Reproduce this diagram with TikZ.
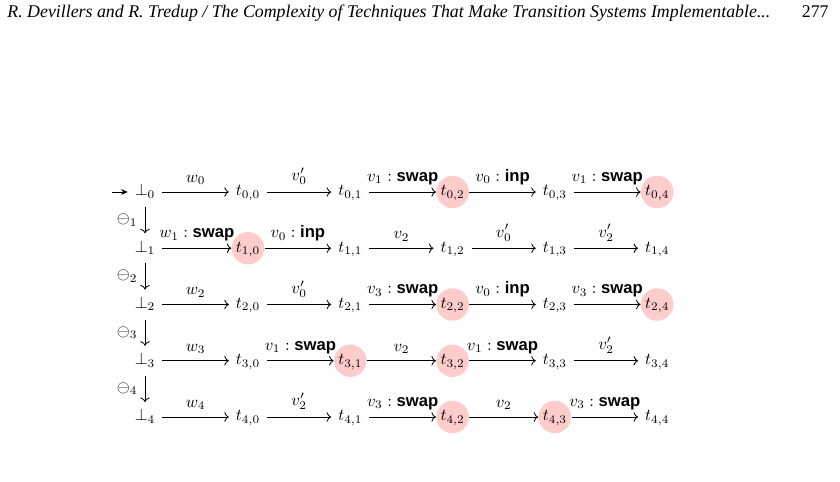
\documentclass[tikz,border=0pt]{standalone}
\usepackage{fontspec}
\newfontfamily\headfont{Liberation Serif}
\newfontfamily\opfont{Liberation Sans}
\usetikzlibrary{arrows.meta}

\newcommand{\opname}[1]{\mbox{\opfont\bfseries #1}}

\begin{document}
\begin{tikzpicture}[x=0.6pt, y=-0.6pt, line width=0.5pt,
    st/.style={inner sep=4pt, text height=7pt, text depth=2.5pt},
    hl/.style={st, circle, fill=red!20, inner sep=0pt, minimum size=19.5pt},
    tr/.style={->},
    lab/.style={above, inner sep=4pt}]
    \useasboundingbox (0,0) rectangle (840,482);

    % Running head
    \node[anchor=base west, inner sep=0pt] (head) at (7,18) {\headfont\fontsize{10.7pt}{12pt}\selectfont\itshape R. Devillers and R. Tredup / The Complexity of Techniques That Make Transition Systems Implementable...};
    \node[anchor=base east, inner sep=0pt] (page) at (829,18) {\headfont\fontsize{10.7pt}{12pt}\selectfont 277};

    % Initial states of the rows
    \foreach \i in {0,...,4} {
            \node[st] (b\i) at (145,{192+56.25*\i}) {$\bot_{\i}$};
        }

    % Plain states
    \foreach \i/\j in {0/0,0/1,0/3,1/1,1/2,1/3,1/4,2/0,2/1,2/3,3/0,3/3,3/4,4/0,4/1,4/4} {
            \node[st] (t\i\j) at ({248+102.3*\j},{192+56.25*\i}) {$t_{\i,\j}$};
        }

    % Highlighted states
    \foreach \i/\j in {0/2,0/4,1/0,2/2,2/4,3/1,3/2,4/2,4/3} {
            \node[hl] (t\i\j) at ({248+102.3*\j},{192+56.25*\i}) {$t_{\i,\j}$};
        }

    % Start arrow
    \coordinate (init) at (112,192);
    \draw[-{Stealth[length=4pt,width=3.5pt]}] (init) -- (b0);

    % Vertical steps
    \foreach \i [evaluate=\i as \k using int(\i+1)] in {0,...,3} {
            \draw[tr] (b\i) -- (b\k) node[midway, left=1pt] {$\ominus_{\k}$};
        }

    % Row 0
    \draw[tr] (b0) -- (t00) node[lab, midway] {$w_0$};
    \draw[tr] (t00) -- (t01) node[lab, midway] {$v_0'$};
    \draw[tr] (t01) -- (t02) node[lab, midway] {$v_1 : \opname{swap}$};
    \draw[tr] (t02) -- (t03) node[lab, midway] {$v_0 : \opname{inp}$};
    \draw[tr] (t03) -- (t04) node[lab, midway] {$v_1 : \opname{swap}$};

    % Row 1
    \draw[tr] (b1) -- (t10) node[lab, midway] {$w_1 : \opname{swap}$};
    \draw[tr] (t10) -- (t11) node[lab, midway] {$v_0 : \opname{inp}$};
    \draw[tr] (t11) -- (t12) node[lab, midway] {$v_2$};
    \draw[tr] (t12) -- (t13) node[lab, midway] {$v_0'$};
    \draw[tr] (t13) -- (t14) node[lab, midway] {$v_2'$};

    % Row 2
    \draw[tr] (b2) -- (t20) node[lab, midway] {$w_2$};
    \draw[tr] (t20) -- (t21) node[lab, midway] {$v_0'$};
    \draw[tr] (t21) -- (t22) node[lab, midway] {$v_3 : \opname{swap}$};
    \draw[tr] (t22) -- (t23) node[lab, midway] {$v_0 : \opname{inp}$};
    \draw[tr] (t23) -- (t24) node[lab, midway] {$v_3 : \opname{swap}$};

    % Row 3
    \draw[tr] (b3) -- (t30) node[lab, midway] {$w_3$};
    \draw[tr] (t30) -- (t31) node[lab, midway] {$v_1 : \opname{swap}$};
    \draw[tr] (t31) -- (t32) node[lab, midway] {$v_2$};
    \draw[tr] (t32) -- (t33) node[lab, midway] {$v_1 : \opname{swap}$};
    \draw[tr] (t33) -- (t34) node[lab, midway] {$v_2'$};

    % Row 4
    \draw[tr] (b4) -- (t40) node[lab, midway] {$w_4$};
    \draw[tr] (t40) -- (t41) node[lab, midway] {$v_2'$};
    \draw[tr] (t41) -- (t42) node[lab, midway] {$v_3 : \opname{swap}$};
    \draw[tr] (t42) -- (t43) node[lab, midway] {$v_2$};
    \draw[tr] (t43) -- (t44) node[lab, midway] {$v_3 : \opname{swap}$};
\end{tikzpicture}
\end{document}
